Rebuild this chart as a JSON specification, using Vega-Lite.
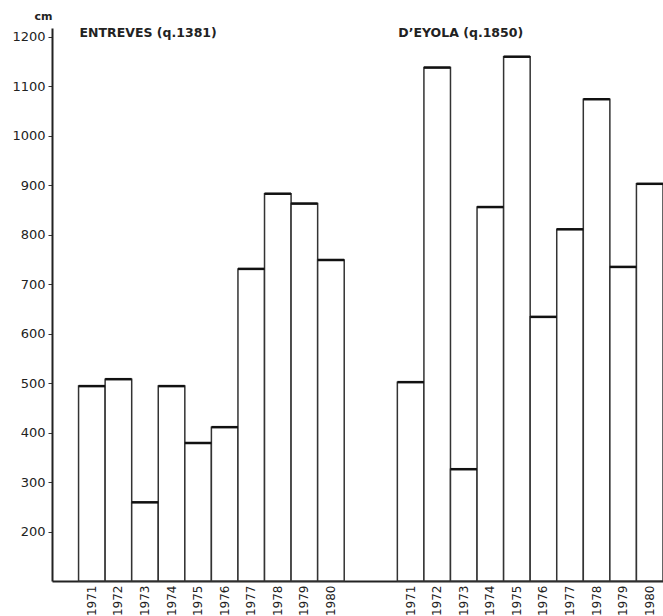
{
  "$schema": "https://vega.github.io/schema/vega-lite/v6.json",
  "autosize": "none",
  "width": 611,
  "height": 553,
  "padding": {"left": 52, "top": 28, "right": 0, "bottom": 35},
  "background": "white",
  "config": {"view": {"stroke": null}, "font": "DejaVu Sans"},
  "data": {"values": [
    {"station": "ENTREVES", "slot": "E1971", "year": "1971", "cm": 494},
    {"station": "ENTREVES", "slot": "E1972", "year": "1972", "cm": 508},
    {"station": "ENTREVES", "slot": "E1973", "year": "1973", "cm": 259},
    {"station": "ENTREVES", "slot": "E1974", "year": "1974", "cm": 494},
    {"station": "ENTREVES", "slot": "E1975", "year": "1975", "cm": 379},
    {"station": "ENTREVES", "slot": "E1976", "year": "1976", "cm": 411},
    {"station": "ENTREVES", "slot": "E1977", "year": "1977", "cm": 731},
    {"station": "ENTREVES", "slot": "E1978", "year": "1978", "cm": 883},
    {"station": "ENTREVES", "slot": "E1979", "year": "1979", "cm": 863},
    {"station": "ENTREVES", "slot": "E1980", "year": "1980", "cm": 749},
    {"station": "D'EYOLA", "slot": "D1971", "year": "1971", "cm": 502},
    {"station": "D'EYOLA", "slot": "D1972", "year": "1972", "cm": 1138},
    {"station": "D'EYOLA", "slot": "D1973", "year": "1973", "cm": 326},
    {"station": "D'EYOLA", "slot": "D1974", "year": "1974", "cm": 856},
    {"station": "D'EYOLA", "slot": "D1975", "year": "1975", "cm": 1160},
    {"station": "D'EYOLA", "slot": "D1976", "year": "1976", "cm": 634},
    {"station": "D'EYOLA", "slot": "D1977", "year": "1977", "cm": 811},
    {"station": "D'EYOLA", "slot": "D1978", "year": "1978", "cm": 1074},
    {"station": "D'EYOLA", "slot": "D1979", "year": "1979", "cm": 735},
    {"station": "D'EYOLA", "slot": "D1980", "year": "1980", "cm": 903}
  ]},
  "encoding": {
    "x": {
      "field": "slot",
      "type": "nominal",
      "sort": null,
      "scale": {
        "domain": ["_a", "E1971", "E1972", "E1973", "E1974", "E1975", "E1976", "E1977", "E1978", "E1979", "E1980", "_b", "_c", "D1971", "D1972", "D1973", "D1974", "D1975", "D1976", "D1977", "D1978", "D1979", "D1980"],
        "paddingInner": 0,
        "paddingOuter": 0
      },
      "axis": {
        "title": null,
        "labelExpr": "indexof(datum.value, '_') == 0 ? '' : substring(datum.value, 1)",
        "labelAngle": -90,
        "labelAlign": "right",
        "labelBaseline": "middle",
        "labelFontSize": 12,
        "labelColor": "#222",
        "labelPadding": 4,
        "ticks": false,
        "domainColor": "#222",
        "domainWidth": 2,
        "labelOverlap": false
      }
    }
  },
  "layer": [
    {
      "mark": {"type": "bar", "fill": "white", "stroke": "#333", "strokeWidth": 1.5},
      "encoding": {
        "y": {
          "field": "cm",
          "type": "quantitative",
          "scale": {"domain": [100, 1218], "nice": false, "zero": false},
          "axis": {
            "title": "cm",
            "titleAngle": 0,
            "titleX": -9,
            "titleY": -12,
            "titleAlign": "center",
            "titleBaseline": "middle",
            "titleFontSize": 11,
            "titleFontWeight": "bold",
            "titleColor": "#222",
            "values": [200, 300, 400, 500, 600, 700, 800, 900, 1000, 1100, 1200],
            "format": "d",
            "grid": false,
            "tickSize": 4,
            "tickWidth": 1,
            "tickColor": "#333",
            "domainColor": "#222",
            "domainWidth": 2,
            "labelFontSize": 13,
            "labelColor": "#222",
            "labelPadding": 3
          }
        },
        "y2": {"datum": 100}
      }
    },
    {
      "mark": {"type": "tick", "orient": "horizontal", "size": 26.5, "thickness": 2.5, "color": "#111", "opacity": 1},
      "encoding": {
        "y": {"field": "cm", "type": "quantitative"}
      }
    },
    {
      "transform": [{"filter": "datum.year == '1971'"}],
      "mark": {"type": "text", "align": "left", "baseline": "middle", "fontSize": 12.5, "fontWeight": "bold", "color": "#222", "dx": 1},
      "encoding": {
        "x": {"field": "slot", "type": "nominal", "bandPosition": 0},
        "y": {"datum": 1208},
        "text": {"condition": {"test": "datum.station == 'ENTREVES'", "value": "ENTREVES (q.1381)"}, "value": "D’EYOLA (q.1850)"}
      }
    }
  ]
}
